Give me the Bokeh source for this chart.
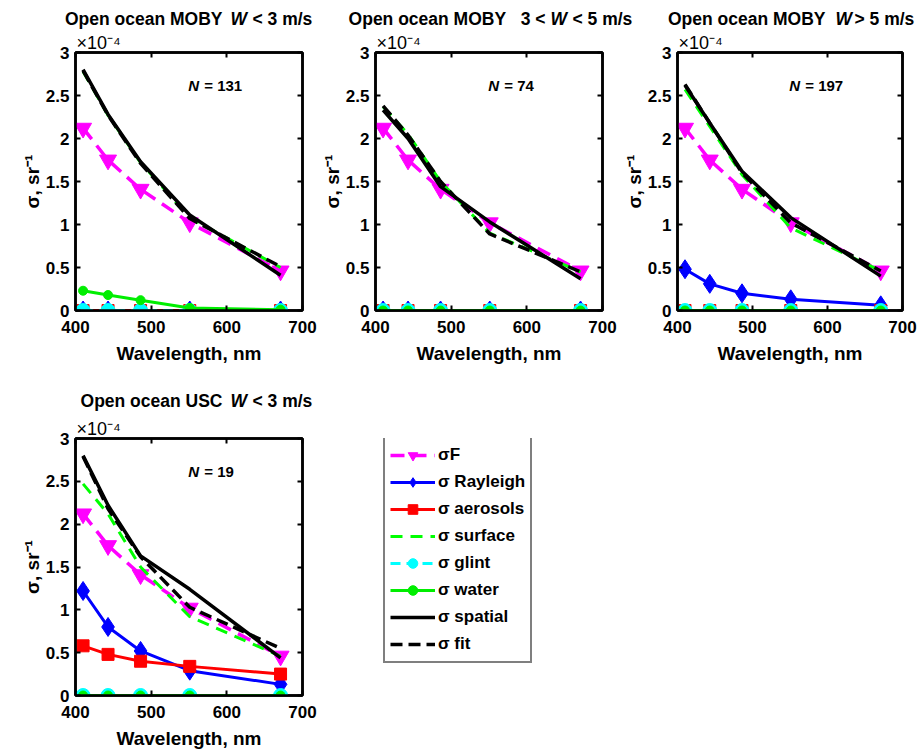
from bokeh.plotting import figure
from bokeh.models import (Range1d, LinearAxis, Title, Label, Legend, LegendItem,
                          NumeralTickFormatter)
from bokeh.layouts import row, column
from bokeh.embed import file_html
from bokeh.resources import INLINE

FONT = "Liberation Sans"

# ---------------- data (sigma values in units of 1e-4 sr^-1) ----------------
wavelength = [410, 443, 486, 551, 671]
x_ticks = [400, 500, 600, 700]
y_ticks = [0, 0.5, 1, 1.5, 2, 2.5, 3]

sigma_F = [2.12, 1.75, 1.41, 1.02, 0.46]

# Open ocean MOBY W < 3 m/s
moby1_rayleigh = [0, 0, 0, 0, 0]
moby1_aerosols = [0, 0, 0, 0, 0]
moby1_surface = [2.78, 2.27, 1.72, 1.08, 0.50]
moby1_glint = [0, 0, 0, 0, 0]
moby1_water = [0.23, 0.18, 0.12, 0.03, 0.01]
moby1_spatial = [2.80, 2.28, 1.73, 1.11, 0.41]
moby1_fit = [2.79, 2.27, 1.71, 1.07, 0.51]

# Open ocean MOBY 3 < W < 5 m/s
moby2_rayleigh = [0, 0, 0, 0, 0]
moby2_aerosols = [0, 0, 0, 0, 0]
moby2_surface = [2.37, 2.05, 1.50, 0.90, 0.45]
moby2_glint = [0, 0, 0, 0, 0]
moby2_water = [0, 0, 0, 0, 0]
moby2_spatial = [2.33, 2.00, 1.44, 1.03, 0.37]
moby2_fit = [2.38, 2.04, 1.50, 0.89, 0.45]

# Open ocean MOBY W > 5 m/s
moby3_rayleigh = [0.48, 0.31, 0.20, 0.13, 0.06]
moby3_aerosols = [0, 0, 0, 0, 0]
moby3_surface = [2.57, 2.14, 1.58, 0.96, 0.46]
moby3_glint = [0, 0, 0, 0, 0]
moby3_water = [0, 0, 0, 0, 0]
moby3_spatial = [2.62, 2.18, 1.62, 1.08, 0.40]
moby3_fit = [2.63, 2.18, 1.60, 1.02, 0.46]

# Open ocean USC W < 3 m/s
usc_rayleigh = [1.22, 0.80, 0.52, 0.29, 0.13]
usc_aerosols = [0.58, 0.48, 0.40, 0.34, 0.25]
usc_surface = [2.47, 2.12, 1.50, 0.92, 0.46]
usc_glint = [0, 0, 0, 0, 0]
usc_water = [0, 0, 0, 0, 0]
usc_spatial = [2.80, 2.22, 1.63, 1.24, 0.44]
usc_fit = [2.79, 2.18, 1.62, 1.03, 0.55]

# titles: (text before W, italic W, text after W)
title_before = ["Open ocean MOBY", "Open ocean MOBY\u00a0\u00a0 3 <",
                "Open ocean MOBY", "Open ocean USC"]
title_w = ["W", "W", "W", "W"]
title_after = ["< 3 m/s", "< 5 m/s", "> 5 m/s", "< 3 m/s"]
n_values = [131, 74, 197, 19]

legend_labels = ["σF", "σ Rayleigh", "σ aerosols", "σ surface", "σ glint",
                 "σ water", "σ spatial", "σ fit"]


def series_list(ray, aer, sur, gli, wat, spa, fit):
    return [sigma_F, ray, aer, sur, gli, wat, spa, fit]


panel_data = [
    series_list(moby1_rayleigh, moby1_aerosols, moby1_surface, moby1_glint,
                moby1_water, moby1_spatial, moby1_fit),
    series_list(moby2_rayleigh, moby2_aerosols, moby2_surface, moby2_glint,
                moby2_water, moby2_spatial, moby2_fit),
    series_list(moby3_rayleigh, moby3_aerosols, moby3_surface, moby3_glint,
                moby3_water, moby3_spatial, moby3_fit),
    series_list(usc_rayleigh, usc_aerosols, usc_surface, usc_glint,
                usc_water, usc_spatial, usc_fit),
]

# style per series: color, dash, line width, marker, marker size
STYLES = [
    dict(color="#ff00ff", dash="14 8", lw=3.5, marker="inverted_triangle", ms=17),
    dict(color="#0000ff", dash="solid", lw=3, marker="diamond", ms=19),
    dict(color="#ff0000", dash="solid", lw=3, marker="square", ms=12),
    dict(color="#00ff00", dash="12 8", lw=3, marker=None, ms=0),
    dict(color="#00ffff", dash="10 6", lw=3, marker="circle", ms=14),
    dict(color="#00ee00", dash="solid", lw=3, marker="circle", ms=9),
    dict(color="#000000", dash="solid", lw=3.5, marker=None, ms=0),
    dict(color="#000000", dash="12 6", lw=3.5, marker=None, ms=0),
]


def draw_series(p, xs, data):
    groups = []
    for ys, st in zip(data, STYLES):
        rs = [p.line(xs, ys, line_color=st["color"], line_width=st["lw"],
                     line_dash=st["dash"])]
        if st["marker"]:
            rs.append(p.scatter(xs, ys, marker=st["marker"], size=st["ms"],
                                fill_color=st["color"], line_color=st["color"]))
        groups.append(rs)
    return groups


def blank_figure(width, height, xr, yr, **kw):
    f = figure(width=width, height=height, x_range=xr, y_range=yr,
               output_backend="svg", toolbar_location=None,
               x_axis_type=None, y_axis_type=None, **kw)
    f.grid.visible = False
    f.outline_line_color = None
    f.border_fill_color = "white"
    f.background_fill_color = "white"
    return f


def title_strip(width, height, y, panels):
    """Strip above a row of panels holding their titles (W in italics)."""
    s = blank_figure(width, height, Range1d(0, width), Range1d(0, height),
                     min_border_left=0, min_border_right=0,
                     min_border_top=0, min_border_bottom=0)
    for idx, w_left, gap_before, gap_after in panels:
        common = dict(y=y, text_font=FONT, text_font_size="17.5px",
                      text_color="black", text_baseline="middle")
        s.add_layout(Label(x=w_left - gap_before, text=title_before[idx],
                           text_align="right", text_font_style="bold", **common))
        s.add_layout(Label(x=w_left, text=title_w[idx], text_align="left",
                           text_font_style="bold italic", **common))
        s.add_layout(Label(x=w_left + gap_after, text=title_after[idx],
                           text_align="left", text_font_style="bold", **common))
    return s


def make_panel(idx, width, left, right, height, top):
    frame_h = 258
    p = figure(width=width, height=height,
               x_range=Range1d(400, 700), y_range=Range1d(0, 3),
               output_backend="svg", toolbar_location=None,
               min_border_left=left, min_border_right=right,
               min_border_top=top, min_border_bottom=height - top - frame_h)
    p.grid.visible = False
    p.outline_line_color = "black"
    p.outline_line_width = 2.5
    p.background_fill_color = "white"
    p.border_fill_color = "white"

    p.add_layout(LinearAxis(), "above")
    p.add_layout(LinearAxis(), "right")
    for ax in p.xaxis:
        ax.ticker = x_ticks
    for ax in p.yaxis:
        ax.ticker = y_ticks
        ax.formatter = NumeralTickFormatter(format="0.[0]")
    for ax in p.axis:
        ax.major_tick_in = 5
        ax.major_tick_out = 0
        ax.minor_tick_line_color = None
        ax.axis_line_width = 2.5
        ax.axis_line_color = "black"
        ax.major_tick_line_width = 2
        ax.major_label_text_font = FONT
        ax.major_label_text_font_size = "17px"
        ax.major_label_text_font_style = "bold"
        ax.major_label_text_color = "black"
        ax.axis_label_text_font = FONT
        ax.axis_label_text_font_size = "19px"
        ax.axis_label_text_font_style = "bold"
        ax.axis_label_text_color = "black"
    # box ticks on top / right: no labels drawn
    for ax in p.above + p.right:
        if isinstance(ax, LinearAxis):
            ax.major_label_text_font_size = "1px"
            ax.major_label_text_color = None
            ax.major_label_standoff = 0
            ax.axis_label = None

    bx = p.below[0]
    bx.axis_label = "Wavelength, nm"
    bx.major_label_standoff = 10
    bx.axis_label_standoff = 7
    ly = p.left[0]
    ly.axis_label = "σ, sr⁻¹"
    ly.major_label_standoff = 6
    ly.axis_label_standoff = 0

    p.title.visible = False
    p.add_layout(Title(text="×10⁻⁴", align="left", text_font=FONT,
                       text_font_size="18px", text_font_style="normal",
                       text_color="black", standoff=0, offset=1), "above")

    groups = draw_series(p, wavelength, panel_data[idx])

    p.add_layout(Label(x=549, y=2.62, text="N", text_font=FONT,
                       text_font_size="15px", text_font_style="bold italic",
                       text_color="black", text_baseline="middle"))
    p.add_layout(Label(x=549, y=2.62, x_offset=16, text=f"= {n_values[idx]}",
                       text_font=FONT, text_font_size="15px", text_color="black",
                       text_font_style="bold", text_baseline="middle"))
    return p, groups


strip1 = title_strip(917, 30, 12, [(0, 230, 8, 22), (1, 550, 5, 22),
                                   (2, 835, 10, 19)])
p1, _ = make_panel(0, 318, 75, 16, 345, 22)
p2, _ = make_panel(1, 302, 57, 18, 345, 22)
p3, _ = make_panel(2, 297, 55, 15, 345, 22)

strip2 = title_strip(917, 40, 15, [(3, 230, 8, 22)])
p4, groups4 = make_panel(3, 318, 75, 16, 336, 23)

# legend panel: the USC series are drawn again outside its visible range and
# used only to build the legend entries
pl = blank_figure(302, 336, Range1d(0, 1), Range1d(0, 1),
                  min_border_left=0, min_border_right=0, min_border_top=5,
                  min_border_bottom=56)
groups = draw_series(pl, wavelength, panel_data[3])
items = [LegendItem(label=lab, renderers=g) for lab, g in zip(legend_labels, groups)]
legend = Legend(items=items, location=(65, 32), margin=0, padding=5,
                spacing=3, label_height=24, glyph_height=24, glyph_width=45,
                label_standoff=3, border_line_color="black", border_line_width=2,
                background_fill_color="white", background_fill_alpha=1,
                label_text_font=FONT, label_text_font_size="17px",
                label_text_font_style="bold", label_text_color="black")
pl.add_layout(legend)

layout = column(strip1, row(p1, p2, p3), strip2, row(p4, pl))

open("out.html", "w").write(file_html(layout, INLINE))
